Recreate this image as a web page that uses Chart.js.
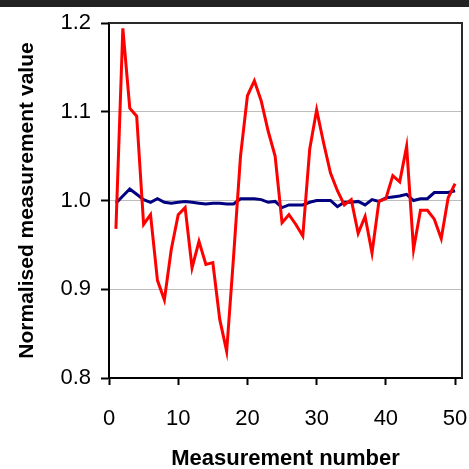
<!DOCTYPE html>
<html><head><meta charset="utf-8">
<script src="https://cdn.jsdelivr.net/npm/chart.js@4/dist/chart.umd.min.js"></script>
<style>
html,body{margin:0;padding:0;background:#fff;overflow:hidden;}
#wrap{position:relative;width:469px;height:469px;}
</style></head><body>
<div id="wrap"><canvas id="c" width="469" height="469"></canvas></div>
<script>
const measurementNumbers = [1,2,3,4,5,6,7,8,9,10,11,12,13,14,15,16,17,18,19,20,21,22,23,24,25,26,27,28,29,30,31,32,33,34,35,36,37,38,39,40,41,42,43,44,45,46,47,48,49,50];
const redSeries = [0.968,1.194,1.104,1.095,0.973,0.984,0.910,0.888,0.945,0.984,
                   0.992,0.924,0.954,0.928,0.930,0.866,0.830,0.937,1.050,1.118,
                   1.135,1.112,1.078,1.050,0.975,0.984,0.973,0.960,1.058,1.102,
                   1.065,1.031,1.011,0.995,1.001,0.963,0.982,0.941,0.999,1.002,
                   1.028,1.021,1.061,0.945,0.989,0.989,0.979,0.957,1.003,1.019];
const blueSeries = [0.997,1.005,1.013,1.007,1.001,0.998,1.002,0.998,0.997,0.998,
                    0.999,0.998,0.997,0.996,0.997,0.997,0.996,0.996,1.002,1.002,
                    1.002,1.001,0.998,0.999,0.992,0.995,0.995,0.995,0.998,1.000,
                    1.000,1.000,0.993,0.998,0.998,0.999,0.995,1.001,0.999,1.003,
                    1.004,1.005,1.007,1.000,1.002,1.002,1.009,1.009,1.009,1.011];
const xTickValues = [0,10,20,30,40,50];
const yTickValues = [0.8,0.9,1.0,1.1,1.2];
const xTitle = 'Measurement number';
const yTitle = 'Normalised measurement value';

const toPoints = (vals) => measurementNumbers.map((n,i)=>({x:n,y:vals[i]}));

const framePlugin = {
  id:'frame',
  beforeDraw(chart){
    const ctx = chart.ctx;
    ctx.save();
    ctx.fillStyle = '#fff';
    ctx.fillRect(0,0,chart.width,chart.height);
    ctx.fillStyle = '#222222';
    ctx.fillRect(0,0,chart.width,7);
    ctx.restore();
  },
  afterDraw(chart){
    const {ctx, chartArea:a} = chart;
    ctx.save();
    ctx.strokeStyle = '#2a2a2a';
    ctx.lineWidth = 2;
    ctx.beginPath();
    ctx.moveTo(a.left, a.top);
    ctx.lineTo(a.right, a.top);
    ctx.lineTo(a.right, a.bottom);
    ctx.stroke();
    ctx.restore();
  }
};

new Chart(document.getElementById('c'), {
  type:'line',
  data:{
    datasets:[
      {label:'A', data:toPoints(redSeries), borderColor:'#ff0000', borderWidth:3, pointRadius:0, tension:0, fill:false},
      {label:'B', data:toPoints(blueSeries), borderColor:'#000080', borderWidth:3, pointRadius:0, tension:0, fill:false}
    ]
  },
  options:{
    responsive:false, animation:false, devicePixelRatio:1,
    layout:{padding:{top:23,right:7,left:0,bottom:0}},
    plugins:{legend:{display:false}, tooltip:{enabled:false}},
    scales:{
      x:{
        type:'linear', min:0, max:51,
        afterBuildTicks(s){ s.ticks = xTickValues.map(v=>({value:v})); },
        afterFit(s){ s.height = 91; s.paddingLeft = 0; s.paddingRight = 0; },
        ticks:{color:'#000', font:{family:'Arial, "Liberation Sans"', size:22}, padding:21, maxRotation:0, autoSkip:false},
        grid:{drawOnChartArea:false, drawTicks:true, tickLength:7, tickColor:'#000', tickWidth:2},
        border:{display:true, color:'#000', width:2},
        title:{display:true, text:xTitle, color:'#000', font:{family:'Arial, "Liberation Sans"', size:22, weight:'bold'}, padding:{top:0,bottom:-3}}
      },
      y:{
        type:'linear', min:0.8, max:1.2,
        afterBuildTicks(s){ s.ticks = yTickValues.map(v=>({value:v})); },
        afterFit(s){ s.width = 109; s.paddingTop = 0; s.paddingBottom = 0; },
        ticks:{color:'#000', font:{family:'Arial, "Liberation Sans"', size:22}, padding:10, callback:(v)=>Number(v).toFixed(1)},
        grid:{
          color:(c)=>{ const v = c.tick ? c.tick.value : null; return (v!==null && Math.abs(v-0.8)>1e-6 && Math.abs(v-1.2)>1e-6) ? '#bdbdbd' : 'rgba(0,0,0,0)'; },
          lineWidth:1, drawTicks:true, tickLength:8, tickColor:'#000', tickWidth:2
        },
        border:{display:true, color:'#000', width:2},
        title:{display:true, text:yTitle, color:'#000', font:{family:'Arial, "Liberation Sans"', size:21, weight:'bold'}, padding:{top:15,bottom:0}}
      }
    }
  },
  plugins:[framePlugin]
});
</script>
</body></html>
